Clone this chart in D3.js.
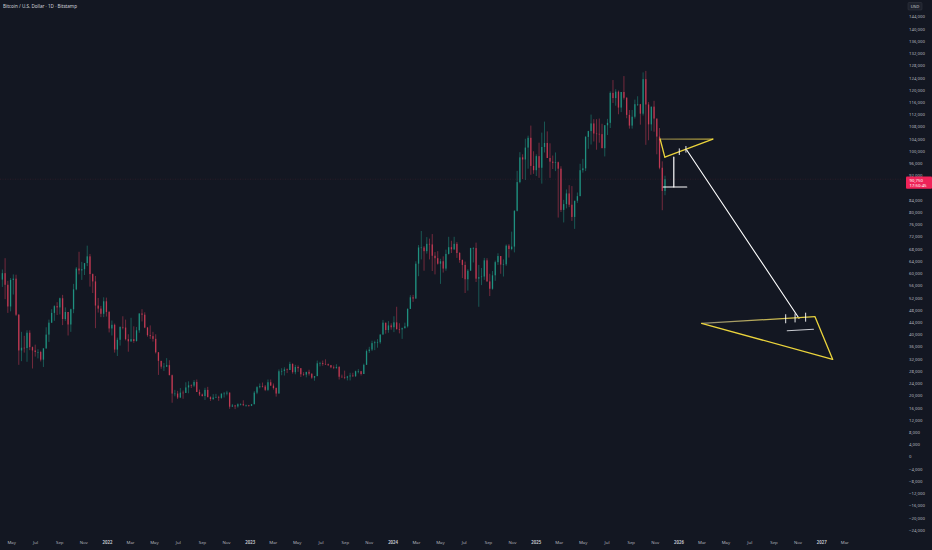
<!DOCTYPE html>
<html><head><meta charset="utf-8">
<script src="https://cdn.jsdelivr.net/npm/d3@7"></script>
<style>html,body{margin:0;padding:0;background:#131722;overflow:hidden}svg{display:block}</style>
</head><body>
<svg id="c" width="932" height="550"></svg>
<script>
// ---------- DATA (weekly OHLC, thousands USD) ----------
const title = "Bitcoin / U.S. Dollar · 1D · Bitstamp";
const weekStart = "2021-04-05";
const firstOpen = 57.9;
const closes = [
 60.0,56.2,49.1,57.8,58.2,46.4,34.7,35.6,35.5,40.5,35.8,34.7,34.2,34.2,31.7,35.4,39.9,43.8,47.0,49.2,48.8,51.8,45.0,47.3,43.2,48.2,54.7,61.5,60.9,61.3,63.3,65.5,59.7,57.3,49.4,48.4,46.7,50.8,47.3,
 41.9,43.1,35.0,38.2,42.4,42.2,38.4,37.7,38.4,37.8,41.3,46.8,46.4,42.2,39.7,39.4,38.5,34.1,31.3,29.4,29.4,29.9,26.6,20.6,20.6,19.3,20.9,20.8,22.6,23.3,23.2,24.4,21.1,20.3,19.8,21.8,19.4,18.8,19.3,19.4,19.2,20.6,20.6,20.9,16.3,16.7,16.4,17.1,17.1,16.8,16.8,16.6,
 17.1,20.9,22.7,23.0,22.9,21.8,24.3,23.2,22.4,20.6,27.9,28.0,28.5,28.3,30.3,27.6,29.3,28.9,26.9,26.8,27.7,27.1,25.8,26.3,30.5,30.6,30.3,30.2,29.9,29.2,29.0,29.3,26.1,26.0,25.8,26.2,26.5,26.3,27.9,27.9,27.0,30.0,34.5,35.0,37.1,37.4,37.4,39.9,43.8,41.4,42.9,42.3,
 43.9,41.7,41.6,42.0,42.6,48.3,52.1,51.7,63.1,68.4,68.4,67.2,69.6,69.4,65.7,64.9,63.1,63.9,61.5,66.3,68.5,67.8,69.6,66.6,64.3,62.7,58.0,60.8,68.2,68.2,58.2,58.7,58.9,64.2,57.3,54.9,59.3,63.6,65.6,62.8,62.9,69.0,67.9,68.7,80.4,89.8,97.9,97.2,101.1,104.3,95.1,93.7,
 98.3,94.5,101.3,102.6,97.7,96.5,96.1,96.3,94.2,80.7,82.6,86.1,82.4,78.4,83.7,85.2,93.7,94.3,104.6,106.5,109.0,105.7,105.6,105.5,100.9,108.4,109.2,119.0,117.3,119.4,114.2,119.3,117.4,111.8,108.3,111.2,115.3,115.3,112.2,123.5,115.2,108.7,114.5,110.6,104.7,94.5,86.9,90.75
];
const highs = [
 61.2,64.9,57.5,58.4,59.6,59.5,46.6,40.8,39.5,41.3,41.3,36.0,36.6,35.1,34.6,34.5,42.3,44.8,48.2,49.5,50.5,52.0,52.9,48.8,47.3,48.4,56.5,62.0,67.0,63.7,63.0,69.0,66.3,59.9,59.1,51.9,49.3,52.1,52.0,
 47.6,44.5,43.5,38.9,42.6,45.9,44.8,40.0,45.4,42.6,42.4,46.9,48.2,47.2,42.4,42.9,40.8,40.0,34.2,31.3,30.6,32.2,31.5,26.8,21.8,21.5,22.4,21.6,24.3,24.6,23.6,25.0,25.2,21.9,20.6,22.5,22.8,19.7,20.4,20.5,19.9,19.7,21.1,21.5,21.0,17.2,16.9,17.4,17.4,18.4,17.0,16.9,
 17.2,21.4,23.0,23.9,24.2,23.4,25.2,25.2,23.9,22.6,28.5,28.9,29.2,28.8,31.0,30.5,30.0,29.8,28.9,27.6,27.5,28.4,27.2,26.2,31.4,31.0,31.4,31.8,30.4,29.9,29.8,30.2,29.6,26.8,28.1,26.4,27.4,27.4,28.1,28.6,28.0,30.4,35.0,35.9,37.9,37.9,38.4,40.0,44.7,43.8,44.3,43.6,
 45.9,49.0,43.6,42.2,43.8,48.5,52.8,52.9,63.9,69.2,73.8,68.9,71.8,71.3,72.8,66.9,67.2,64.7,65.5,67.7,71.9,70.6,71.9,70.2,66.9,64.5,63.8,61.3,68.3,68.5,70.0,62.7,61.7,65.0,64.9,59.8,60.7,64.1,66.5,65.6,64.5,69.4,69.5,73.6,80.6,93.5,99.6,98.9,104.0,105.0,108.3,99.9,
 98.9,102.7,106.0,109.6,106.4,102.5,98.5,99.5,96.5,95.0,84.0,87.4,88.8,88.5,83.7,86.4,95.8,97.4,104.9,106.6,111.9,110.4,110.4,110.6,108.9,108.5,110.5,119.5,123.2,120.2,119.8,119.3,124.5,117.6,113.4,113.4,116.8,117.9,115.4,125.7,126.2,116.0,114.0,116.4,110.6,107.5,96.6,91.9
];
const lows = [
 55.5,51.5,47.0,47.5,53.0,46.0,30.0,31.2,34.0,31.0,34.8,28.8,32.7,32.1,31.1,29.3,35.2,37.5,43.7,44.4,46.3,46.5,43.0,44.4,39.6,40.8,46.9,54.4,59.6,57.8,59.4,62.3,55.6,53.5,42.0,47.1,45.6,45.6,45.8,
 40.6,39.6,34.0,32.9,36.3,41.6,38.0,34.3,37.5,37.2,37.6,40.5,44.2,42.0,39.2,38.5,37.6,33.7,26.7,28.7,28.0,29.3,26.6,17.6,19.7,18.8,19.1,18.9,20.8,20.7,22.4,22.7,21.1,19.8,19.6,18.5,19.6,18.2,18.5,19.2,18.2,18.9,19.3,20.0,15.6,16.3,15.5,16.0,16.7,16.5,16.3,16.3,
 16.5,17.1,20.4,22.3,22.6,21.4,21.4,23.1,21.9,19.6,20.6,26.6,26.5,27.3,28.3,27.1,26.9,27.7,26.0,26.4,25.9,26.5,25.4,24.8,26.3,29.5,29.7,30.0,29.6,28.9,28.6,28.7,25.2,25.8,25.3,24.9,24.9,26.0,26.0,27.2,26.5,27.0,30.0,33.9,34.5,34.8,35.6,36.9,39.9,40.2,40.5,41.5,
 40.7,41.5,40.3,38.5,41.9,42.2,48.3,50.6,51.6,59.0,64.5,60.8,66.4,64.5,60.7,59.6,62.8,56.5,60.2,60.8,66.1,66.6,67.6,65.0,63.4,58.4,53.5,54.3,60.8,63.5,57.1,49.0,56.1,57.8,57.2,52.5,54.6,57.5,62.7,59.8,58.9,62.4,65.1,67.5,66.8,80.2,89.4,90.8,90.5,94.2,92.2,92.5,
 91.8,91.2,89.3,99.5,97.8,91.2,94.1,93.4,78.2,80.0,76.6,81.2,81.6,77.1,74.5,83.0,85.2,92.9,93.4,100.7,102.1,103.1,100.4,102.7,102.3,98.2,105.2,107.5,115.7,114.8,112.0,112.7,116.8,110.7,107.3,107.3,110.6,114.7,108.6,111.6,102.0,103.5,106.6,106.3,98.9,94.0,80.6,85.5
];
const yTicks = d3.range(-24000, 144001, 4000);
const monthLabels = ["Jan","Feb","Mar","Apr","May","Jun","Jul","Aug","Sep","Oct","Nov","Dec"];
const xTickStart = "2021-05-01", xTickEnd = "2027-03-01";
const lastPriceText = "90,750", countdownText = "17:50:45";

// drawings (date, price)
const triangle1 = [["2025-11-15",103900],["2026-03-30",103900],["2025-11-27",98000]];
const triangle1Ticks = [["2026-01-03",99750],["2026-01-20",100540]];
const rangeBarV = [["2025-12-20",98000],["2025-12-20",88200]];
const rangeBarH = [["2025-11-23",88200],["2026-01-22",88200]];
const projection = [["2026-01-22",100310],["2026-11-05",45230]];
const triangle2 = [["2026-03-01",43590],["2026-12-16",45750],["2027-01-30",31810]];
const triangle2Ticks = [["2026-10-02",45080],["2026-10-26",45360],["2026-11-22",45590]];
const greyLine = [["2026-10-06",41170],["2026-12-12",41630]];

// ---------- CHART ----------
const svg = d3.select("#c");
const W = 932, H = 550, plotRight = 905;
const parse = d3.utcParse("%Y-%m-%d");
const x = d3.scaleUtc().domain([parse("2022-01-01"), parse("2026-01-01")]).range([107, 678.5]);
const y = d3.scaleLinear().domain([0, 144000]).range([456.5, 16.5]);
const font = "'Noto Sans', Roboto, sans-serif";

svg.append("rect").attr("width", W).attr("height", H).attr("fill", "#131722");

const defs = svg.append("defs");
defs.append("clipPath").attr("id","plot").append("rect").attr("x",0).attr("y",0).attr("width",plotRight).attr("height",536);

// candles
const DAY = 864e5;
const t0 = parse(weekStart);
const candles = closes.map((c, i) => {
  const o = i === 0 ? firstOpen : closes[i-1];
  return {d: new Date(t0.getTime() + i*7*DAY), o: o*1000, c: c*1000,
          h: Math.max(highs[i], o, c)*1000, l: Math.min(lows[i], o, c)*1000};
});
const g = svg.append("g").attr("clip-path","url(#plot)");
const up = "#22ab94", dn = "#e8415e";
const mid = d => x(new Date(d.d.getTime()+3.5*DAY));
const cg = g.append("g");
cg.selectAll("line.w").data(candles).join("line").attr("class","w")
  .attr("x1", mid).attr("x2", mid)
  .attr("y1", d => y(d.h)).attr("y2", d => y(d.l))
  .attr("stroke", d => d.c >= d.o ? up : dn).attr("stroke-width", 0.6).attr("stroke-opacity",0.75);
cg.selectAll("rect.b").data(candles).join("rect").attr("class","b")
  .attr("x", d => x(new Date(d.d.getTime()+1.8*DAY)))
  .attr("width", d => x(new Date(d.d.getTime()+5.2*DAY)) - x(new Date(d.d.getTime()+1.8*DAY)))
  .attr("y", d => y(Math.max(d.o,d.c)))
  .attr("height", d => Math.max(0.6, Math.abs(y(d.o)-y(d.c))))
  .attr("fill", d => d.c >= d.o ? up : dn).attr("fill-opacity",0.7);

// last price dotted line
const last = candles[candles.length-1];
g.append("line").attr("x1",0).attr("x2",plotRight).attr("y1",y(last.c)).attr("y2",y(last.c))
  .attr("stroke", dn).attr("stroke-opacity",0.2).attr("stroke-width",0.6).attr("stroke-dasharray","1,1.5");

// drawings
const P = p => [x(parse(p[0])), y(p[1])];
const yellow = "#ebd43c";
function gradEdge(id, a, b, c1, c2) {
  const [x1,y1] = P(a), [x2,y2] = P(b);
  const gr = defs.append("linearGradient").attr("id",id).attr("gradientUnits","userSpaceOnUse")
    .attr("x1",x1).attr("y1",y1).attr("x2",x2).attr("y2",y2);
  gr.append("stop").attr("offset",0).attr("stop-color",c1);
  gr.append("stop").attr("offset",1).attr("stop-color",c2);
  g.append("line").attr("x1",x1).attr("y1",y1).attr("x2",x2).attr("y2",y2)
    .attr("stroke",`url(#${id})`).attr("stroke-width",1.3);
}
function seg(a, b, col, w) {
  const [x1,y1] = P(a), [x2,y2] = P(b);
  g.append("line").attr("x1",x1).attr("y1",y1).attr("x2",x2).attr("y2",y2)
    .attr("stroke",col).attr("stroke-width",w).attr("stroke-linecap","round");
}
function ticks(arr, half) {
  arr.forEach(p => { const [px,py] = P(p);
    g.append("line").attr("x1",px).attr("x2",px).attr("y1",py-half).attr("y2",py+half)
      .attr("stroke","#ffffff").attr("stroke-width",0.9); });
}
// triangle 1
gradEdge("t1top", triangle1[0], triangle1[1], "#7a7144", "#b8a53c");
seg(triangle1[1], triangle1[2], yellow, 1.3);
seg(triangle1[2], triangle1[0], yellow, 1.3);
ticks(triangle1Ticks, 3.3);
// range bar
seg(rangeBarV[0], rangeBarV[1], "#ffffff", 1.2);
seg(rangeBarH[0], rangeBarH[1], "#ffffff", 1.2);
// projection line
seg(projection[0], projection[1], "#ffffff", 1.1);
// triangle 2
gradEdge("t2top", triangle2[0], triangle2[1], "#8f8a76", "#e8d23c");
seg(triangle2[1], triangle2[2], yellow, 1.3);
seg(triangle2[2], triangle2[0], yellow, 1.3);
ticks(triangle2Ticks, 4.5);
seg(greyLine[0], greyLine[1], "#c9cbd1", 1.1);

// y axis (labels hidden behind the last-price label are skipped)
const ly = y(last.c);
const fmt = d3.format(",");
const ya = svg.append("g").attr("transform",`translate(909,0)`)
  .call(d3.axisRight(y).tickValues(yTicks.filter(v => { const p = y(v); return p < ly - 3 || p > ly + 11; }))
    .tickSize(0).tickPadding(0)
    .tickFormat(v => v < 0 ? "\u2212" + fmt(-v) : fmt(v)));
ya.select(".domain").remove();
ya.selectAll("text").attr("fill","#b2b5be").attr("font-size",4.3).attr("font-family",font);

// x axis
const xTicks = d3.utcMonth.every(2).range(parse(xTickStart), d3.utcDay.offset(parse(xTickEnd),1));
const xa = svg.append("g").attr("transform",`translate(0,540.5)`)
  .call(d3.axisBottom(x).tickValues(xTicks).tickSize(0).tickPadding(0)
    .tickFormat(d => d.getUTCMonth() === 0 ? String(d.getUTCFullYear()) : monthLabels[d.getUTCMonth()]));
xa.select(".domain").remove();
xa.selectAll("text").attr("font-size",4.3).attr("font-family",font)
  .attr("fill", d => d.getUTCMonth() === 0 ? "#d1d4dc" : "#b2b5be")
  .attr("font-weight", d => d.getUTCMonth() === 0 ? 600 : 400);

// USD box
svg.append("rect").attr("x",908).attr("y",2.5).attr("width",14).attr("height",7.5).attr("rx",1)
  .attr("fill","#1e222d").attr("stroke","#363a45").attr("stroke-width",0.5);
svg.append("text").attr("x",915).attr("y",7.8).attr("text-anchor","middle").attr("font-size",4.2)
  .attr("font-family",font).attr("fill","#d1d4dc").text("USD");

// last price label
svg.append("rect").attr("x",906).attr("y",ly-2.6).attr("width",26).attr("height",12.2).attr("rx",1)
  .attr("fill","#ef2358");
svg.append("text").attr("x",909.5).attr("y",ly+2.7).attr("font-size",4.3).attr("font-family",font)
  .attr("fill","#ffffff").text(lastPriceText);
svg.append("text").attr("x",909.5).attr("y",ly+7.8).attr("font-size",4.3).attr("font-family",font)
  .attr("fill","#ffffff").text(countdownText);

// title
svg.append("text").attr("x",3).attr("y",7.5).attr("font-size",4.6).attr("font-family",font)
  .attr("fill","#d1d4dc").text(title);
</script>
</body></html>
